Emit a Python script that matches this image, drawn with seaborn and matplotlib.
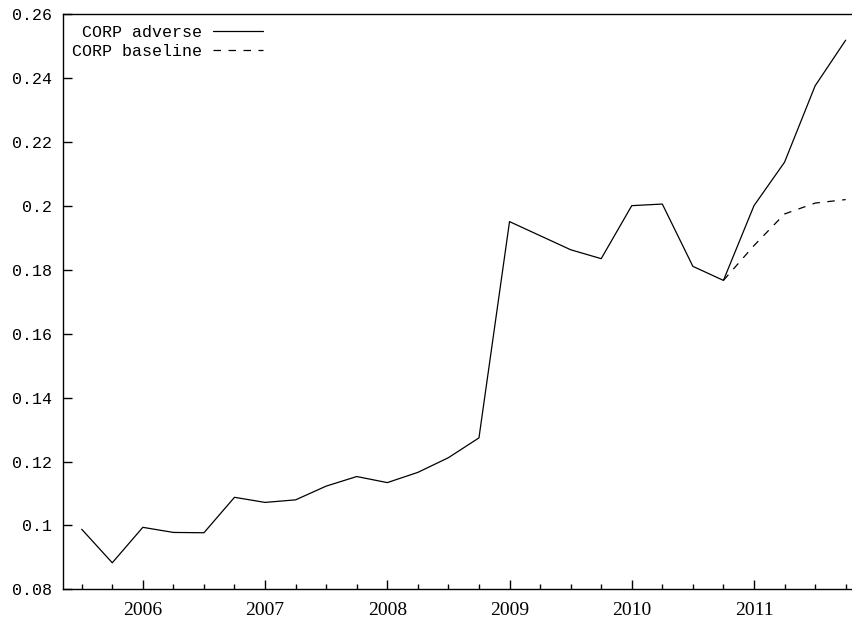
import matplotlib
matplotlib.use("Agg")
import matplotlib.pyplot as plt
import seaborn as sns
import pandas as pd
from matplotlib.ticker import FixedLocator, FuncFormatter

# Quarterly observation dates (decimal years)
quarters = [2005.50, 2005.75,
            2006.00, 2006.25, 2006.50, 2006.75,
            2007.00, 2007.25, 2007.50, 2007.75,
            2008.00, 2008.25, 2008.50, 2008.75,
            2009.00, 2009.25, 2009.50, 2009.75,
            2010.00, 2010.25, 2010.50, 2010.75,
            2011.00, 2011.25, 2011.50, 2011.75]

corp_adverse = [0.0988, 0.0883,
                0.0994, 0.0978, 0.0977, 0.1088,
                0.1072, 0.1080, 0.1123, 0.1153,
                0.1134, 0.1166, 0.1212, 0.1274,
                0.1951, 0.1907, 0.1863, 0.1835,
                0.2001, 0.2006, 0.1811, 0.1767,
                0.2001, 0.2137, 0.2376, 0.2519]

# Baseline projection starts from the last observed quarter
baseline_quarters = [2010.75, 2011.00, 2011.25, 2011.50, 2011.75]
corp_baseline = [0.1767, 0.1876, 0.1975, 0.2009, 0.2020]

year_ticks = [2006, 2007, 2008, 2009, 2010, 2011]
y_ticks = [0.08, 0.10, 0.12, 0.14, 0.16, 0.18, 0.20, 0.22, 0.24, 0.26]

df_adv = pd.DataFrame({"date": quarters, "value": corp_adverse})
df_base = pd.DataFrame({"date": baseline_quarters, "value": corp_baseline})

sns.set_theme(style="white")
plt.rcParams["font.family"] = ["Liberation Serif", "DejaVu Serif"]

W, H = 853, 622
fig = plt.figure(figsize=(W / 100, H / 100), dpi=100)
ax_left, ax_right, ax_bottom, ax_top = 63, 853, 589.3, 14.3
ax = fig.add_axes([ax_left / W, (H - ax_bottom) / H,
                   (ax_right - ax_left) / W, (ax_bottom - ax_top) / H])

sns.lineplot(data=df_adv, x="date", y="value", ax=ax, color="black",
             linewidth=0.9, label="CORP adverse")
sns.lineplot(data=df_base, x="date", y="value", ax=ax, color="black",
             linewidth=0.9, linestyle=(0, (6, 6)), label="CORP baseline")

ax.set_xlim(2005.347, 2011.81)
ax.set_ylim(0.08, 0.26)
ax.set_xlabel("")
ax.set_ylabel("")

ax.xaxis.set_major_locator(FixedLocator(year_ticks))
ax.xaxis.set_minor_locator(FixedLocator(quarters))
ax.yaxis.set_major_locator(FixedLocator(y_ticks))
ax.yaxis.set_major_formatter(FuncFormatter(lambda v, p: "%g" % round(v, 2)))

ax.tick_params(axis="x", which="major", direction="in", length=6.5, width=1,
               color="black", bottom=True, top=False, pad=9, labelsize=14,
               labelcolor="black")
ax.tick_params(axis="x", which="minor", direction="in", length=3.5, width=1,
               color="black", bottom=True, top=False)
ax.tick_params(axis="y", which="major", direction="in", length=6.5, width=1,
               color="black", left=True, right=False, pad=8, labelsize=12,
               labelcolor="black")
for lbl in ax.get_yticklabels():
    lbl.set_fontfamily(["Liberation Mono", "DejaVu Sans Mono"])

for side in ["left", "bottom", "top"]:
    ax.spines[side].set_visible(True)
    ax.spines[side].set_color("black")
    ax.spines[side].set_linewidth(1.0)
ax.spines["right"].set_visible(False)

leg = ax.legend(loc="upper left", bbox_to_anchor=(0.0114, 0.981),
                frameon=False, markerfirst=False, borderpad=0,
                borderaxespad=0, handlelength=3.0, handletextpad=0.65,
                labelspacing=0.2,
                prop={"family": ["Liberation Mono", "DejaVu Sans Mono"],
                      "size": 12})
for t in leg.get_texts():
    t.set_color("black")

fig.savefig("out.png", dpi=100, facecolor="white")
